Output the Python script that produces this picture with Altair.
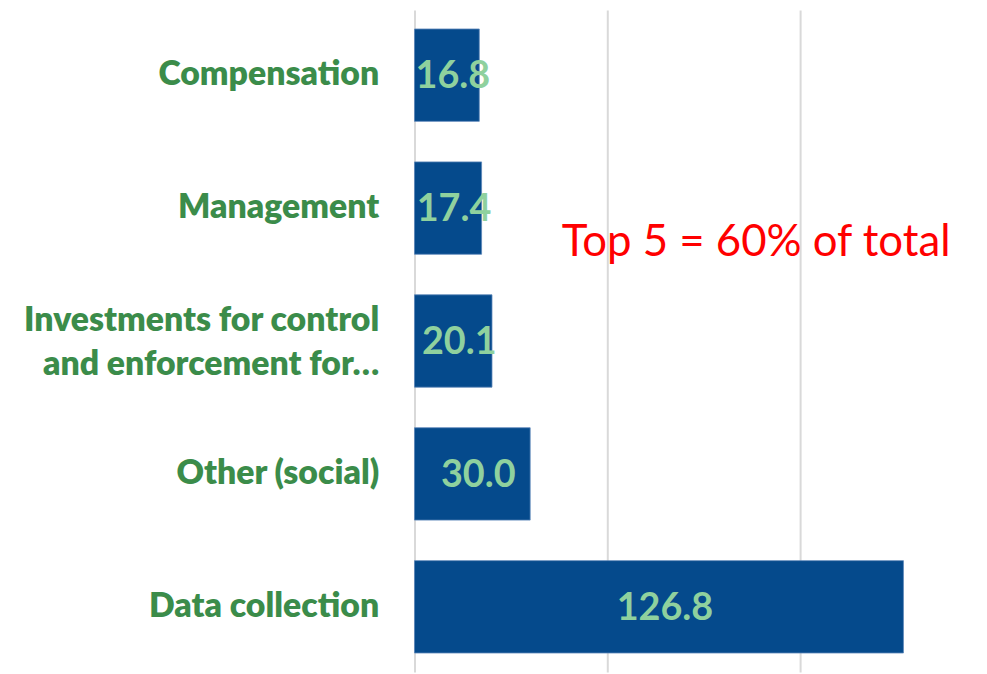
import altair as alt
import pandas as pd

categories = [
    "Compensation",
    "Management",
    "Investments for control and enforcement for…",
    "Other (social)",
    "Data collection",
]
values = [16.8, 17.4, 20.1, 30.0, 126.8]
value_labels = ["16.8", "17.4", "20.1", "30.0", "126.8"]
annotation = "Top 5 = 60% of total"

df = pd.DataFrame({"category": categories, "value": values, "label": value_labels})

FONT = "Lato"
BAR = "#054a8c"
CAT_GREEN = "#3b8c4a"
VAL_GREEN = "#8fd19e"

label_expr = (
    "datum.label == 'Investments for control and enforcement for…' ? "
    "['Investments for control', 'and enforcement for…'] : datum.label"
)

y_enc = alt.Y(
    "category:N",
    sort=categories,
    scale=alt.Scale(paddingInner=0.305, paddingOuter=0.1425),
    axis=alt.Axis(
        title=None,
        domain=False,
        ticks=False,
        grid=False,
        labelFont=FONT,
        labelFontWeight=800,
        labelFontSize=34,
        labelColor=CAT_GREEN,
        labelPadding=36,
        labelLimit=420,
        labelLineHeight=44,
        labelExpr=label_expr,
        labelOffset={
            "condition": {"test": "indexof(datum.value, 'Investments') == 0", "value": -20},
            "value": 0,
        },
    ),
)

x_scale = alt.Scale(domain=[0, 146.4], nice=False, zero=True)

bars = alt.Chart(df).mark_bar(color=BAR, stroke="#5b86b8", strokeWidth=0.8).encode(
    x=alt.X(
        "value:Q",
        scale=x_scale,
        axis=alt.Axis(
            title=None,
            labels=False,
            ticks=False,
            domain=False,
            values=[0, 50, 100],
            grid=True,
            gridColor="#d9d9d9",
            gridWidth=2,
        ),
    ),
    y=y_enc,
)

texts = alt.Chart(df).transform_calculate(mid="datum.value / 2").mark_text(
    font=FONT, fontWeight="bold", fontSize=38, color=VAL_GREEN, align="center",
    baseline="middle", dx=6, dy=2,
).encode(
    x=alt.X("mid:Q", scale=x_scale),
    y=alt.Y("category:N", sort=categories),
    text="label:N",
)

ann_df = pd.DataFrame({"x": [88.6], "text": [annotation]})
ann = alt.Chart(ann_df).mark_text(
    font=FONT, fontSize=44, color="#ff0000", align="center", baseline="middle",
).encode(
    x=alt.X("x:Q", scale=x_scale),
    y=alt.value(234),
    text="text:N",
)

chart = (
    alt.layer(bars, texts, ann)
    .properties(
        width=568,
        height=666,
        autosize=alt.AutoSizeParams(type="none"),
        padding={"left": 409, "top": 0, "right": 0, "bottom": 0},
        background="white",
    )
    .configure_view(stroke=None, strokeWidth=0)
)

chart.save("out.html", embed_options={"renderer": "svg", "actions": False})
